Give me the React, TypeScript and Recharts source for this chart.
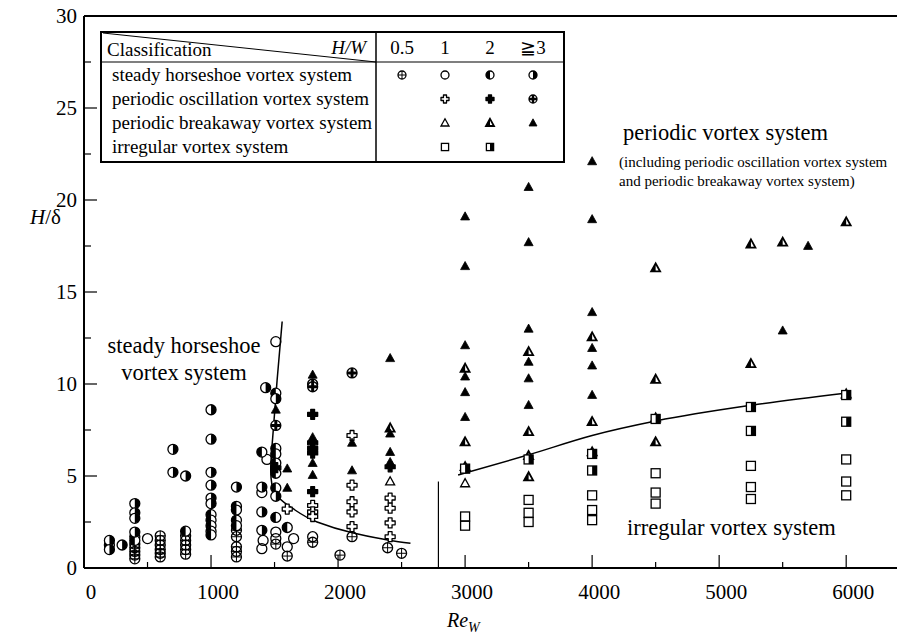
import React from 'react';
import { ComposedChart, Scatter, Line, XAxis, YAxis, ReferenceLine } from 'recharts';

const FONT = "'Liberation Serif', 'Times New Roman', Times, serif";

// ---- data: [Re_W, H/delta] ----
const steadyHW05: number[][] = [
  [400, 1.3], [400, 1.1], [400, 0.9], [400, 0.7], [400, 0.5],
  [600, 1.75], [600, 1.5], [600, 1.25], [600, 1.0], [600, 0.8], [600, 0.6],
  [800, 1.75], [800, 1.5], [800, 1.25], [800, 1.0], [800, 0.75],
  [1200, 2.05], [1200, 1.7], [1200, 1.15], [1200, 0.9], [1200, 0.6],
  [1510, 1.3], [1600, 0.65], [1800, 1.4], [2015, 0.7], [2110, 1.7], [2390, 1.1], [2500, 0.8],
];
const steadyHW1: number[][] = [
  [500, 1.6], [1440, 5.9], [1400, 4.1], [1410, 1.5], [1400, 1.05], [1510, 12.3],
  [1510, 1.95], [1510, 1.6], [1600, 1.15], [1650, 1.6], [1800, 1.7],
];
const steadyHW2: number[][] = [
  [200, 1.25], [400, 1.7], [400, 1.5], [800, 2.0],
  [1000, 2.9], [1000, 2.6], [1000, 2.3], [1000, 2.0], [1000, 1.8],
  [1200, 3.35], [1200, 3.15], [1200, 2.6], [1200, 2.3],
  [1400, 6.3], [1510, 9.5], [1510, 6.5], [1510, 6.2], [1510, 5.7], [1510, 5.15],
  [1510, 4.35], [1510, 2.75], [1600, 2.2],
];
const steadyHW3: number[][] = [
  [200, 1.5], [200, 1.0], [300, 1.25], [400, 3.5], [400, 3.0], [400, 2.7], [400, 1.95],
  [700, 6.45], [700, 5.2], [800, 5.0],
  [1000, 8.6], [1000, 7.0], [1000, 5.2], [1000, 4.5], [1000, 3.8], [1000, 3.5],
  [1200, 4.4], [1430, 9.8], [1400, 4.4], [1400, 3.05], [1400, 2.05], [1510, 9.2], [1510, 3.9],
];
const oscHW1: number[][] = [
  [1600, 3.2], [1800, 3.4], [1800, 3.05], [1800, 2.8],
  [2110, 7.2], [2110, 4.5], [2110, 3.6], [2110, 3.05], [2110, 2.25],
  [2410, 3.8], [2410, 3.25], [2410, 2.45], [2410, 1.7],
];
const oscHW2: number[][] = [
  [1510, 5.45], [1800, 8.35], [1800, 6.8], [1800, 6.5], [1800, 6.25], [1800, 4.15], [2410, 5.5],
];
const oscHW3: number[][] = [
  [1510, 7.75], [1800, 10.0], [1800, 9.85], [2110, 10.6],
];
const breakHW1: number[][] = [
  [2410, 4.7], [3000, 4.6],
];
const breakHW2: number[][] = [
  [2410, 7.6], [3000, 10.85], [3000, 6.85], [3000, 5.5],
  [3500, 11.75], [3500, 7.4], [3500, 6.1], [3500, 4.95],
  [4000, 12.55], [4000, 7.95], [4000, 6.3],
  [4500, 16.3], [4500, 10.25], [4500, 8.15], [4500, 6.85],
  [5250, 17.6], [5250, 11.1], [5500, 17.7], [6000, 18.8], [6000, 9.45],
];
const breakHW3: number[][] = [
  [1510, 8.6], [1600, 5.4], [1600, 4.35],
  [1800, 10.5], [1800, 7.1], [1800, 5.7], [1800, 5.05],
  [2110, 6.8], [2110, 5.3],
  [2410, 11.4], [2410, 7.3], [2410, 6.3], [2410, 5.75],
  [3000, 19.1], [3000, 16.4], [3000, 12.1], [3000, 10.4], [3000, 9.55], [3000, 8.2],
  [3500, 20.7], [3500, 17.7], [3500, 13.0], [3500, 11.2], [3500, 10.3], [3500, 8.85],
  [4000, 22.1], [4000, 18.95], [4000, 13.9], [4000, 11.95], [4000, 11.0], [4000, 9.4],
  [5500, 12.9], [5700, 17.5],
];
const irregHW1: number[][] = [
  [3000, 2.8], [3000, 2.3], [3500, 3.7], [3500, 3.0], [3500, 2.5],
  [4000, 3.95], [4000, 3.15], [4000, 2.6], [4500, 5.15], [4500, 4.1], [4500, 3.5],
  [5250, 5.55], [5250, 4.4], [5250, 3.75], [6000, 5.9], [6000, 4.7], [6000, 3.95],
];
const irregHW2: number[][] = [
  [3000, 5.4], [3500, 5.9], [4000, 6.2], [4000, 5.3], [4500, 8.1],
  [5250, 8.75], [5250, 7.45], [6000, 9.4], [6000, 7.95],
];

// boundary curves
const steadyBoundary: number[][] = [
  [1560, 13.4], [1520, 10.2], [1490, 7.5], [1470, 5.3], [1480, 4.5], [1530, 3.85],
  [1640, 3.25], [1835, 2.5], [2120, 1.9], [2410, 1.5], [2570, 1.35],
];
const irregularBoundary: number[][] = [
  [2945, 5.05], [3500, 6.15], [4000, 7.2], [4510, 8.0], [5260, 8.85], [5990, 9.5],
];
const separator: number[][] = [[2790, 0], [2790, 4.7]];

const xTicks = [0, 500, 1000, 1500, 2000, 2500, 3000, 3500, 4000, 4500, 5000, 5500, 6000];
const yTicks = [0, 2.5, 5, 7.5, 10, 12.5, 15, 17.5, 20, 22.5, 25, 27.5, 30];

const tableRows = [
  'steady horseshoe vortex system',
  'periodic oscillation vortex system',
  'periodic breakaway vortex system',
  'irregular vortex system',
];
const tableCols = ['0.5', '1', '2', '\u22673'];
const tableKinds: (string | null)[][] = [
  ['st05', 'st1', 'st2', 'st3'],
  [null, 'os1', 'os2', 'os3'],
  [null, 'br1', 'br2', 'br3'],
  [null, 'ir1', 'ir2', null],
];

const toPts = (a: number[][]) => a.map(([x, y]) => ({ x, y }));

function Marker({ kind, cx, cy, r = 5 }: { kind: string; cx: number; cy: number; r?: number }) {
  const sw = 1.3;
  const k = '#000';
  if (cx == null || cy == null) return null;
  switch (kind) {
    case 'st05':
      return (
        <g>
          <circle cx={cx} cy={cy} r={r} fill="none" stroke={k} strokeWidth={sw} />
          <line x1={cx - r} x2={cx + r} y1={cy} y2={cy} stroke={k} strokeWidth={1} />
          <line x1={cx} x2={cx} y1={cy - r} y2={cy + r} stroke={k} strokeWidth={1} />
        </g>
      );
    case 'st1':
      return <circle cx={cx} cy={cy} r={r} fill="none" stroke={k} strokeWidth={sw} />;
    case 'st2':
      return (
        <g>
          <circle cx={cx} cy={cy} r={r} fill="#fff" stroke={k} strokeWidth={sw} />
          <path d={`M${cx},${cy - r} A${r},${r} 0 0 0 ${cx},${cy + r} Z`} fill={k} />
        </g>
      );
    case 'st3':
      return (
        <g>
          <circle cx={cx} cy={cy} r={r} fill="#fff" stroke={k} strokeWidth={sw} />
          <path d={`M${cx},${cy - r} A${r},${r} 0 0 1 ${cx},${cy + r} Z`} fill={k} />
        </g>
      );
    case 'os1':
    case 'os2': {
      const a = r * 0.38;
      const d = `M${cx - a},${cy - r} L${cx + a},${cy - r} L${cx + a},${cy - a} L${cx + r},${cy - a} L${cx + r},${cy + a} L${cx + a},${cy + a} L${cx + a},${cy + r} L${cx - a},${cy + r} L${cx - a},${cy + a} L${cx - r},${cy + a} L${cx - r},${cy - a} L${cx - a},${cy - a} Z`;
      return <path d={d} fill={kind === 'os2' ? k : '#fff'} stroke={k} strokeWidth={sw} strokeLinejoin="round" />;
    }
    case 'os3': {
      const a = r * 0.3;
      const d = `M${cx - a},${cy - r} L${cx + a},${cy - r} L${cx + a},${cy - a} L${cx + r},${cy - a} L${cx + r},${cy + a} L${cx + a},${cy + a} L${cx + a},${cy + r} L${cx - a},${cy + r} L${cx - a},${cy + a} L${cx - r},${cy + a} L${cx - r},${cy - a} L${cx - a},${cy - a} Z`;
      return (
        <g>
          <circle cx={cx} cy={cy} r={r} fill="#fff" stroke={k} strokeWidth={sw} />
          <path d={d} fill={k} />
        </g>
      );
    }
    case 'br1':
    case 'br2':
    case 'br3': {
      const t = r * 1.0;
      const pts = `${cx},${cy - t * 1.05} ${cx - t},${cy + t * 0.75} ${cx + t},${cy + t * 0.75}`;
      if (kind === 'br3') return <polygon points={pts} fill={k} stroke={k} strokeWidth={0.8} />;
      if (kind === 'br1') return <polygon points={pts} fill="none" stroke={k} strokeWidth={sw} />;
      return (
        <g>
          <polygon points={pts} fill="#fff" stroke={k} strokeWidth={1.8} />
          <polygon points={`${cx},${cy - t * 1.05} ${cx - t},${cy + t * 0.75} ${cx},${cy + t * 0.75}`} fill={k} />
        </g>
      );
    }
    case 'ir1':
      return <rect x={cx - r * 0.9} y={cy - r * 0.9} width={r * 1.8} height={r * 1.8} fill="none" stroke={k} strokeWidth={sw} />;
    case 'ir2':
      return (
        <g>
          <rect x={cx - r * 0.9} y={cy - r * 0.9} width={r * 1.8} height={r * 1.8} fill="#fff" stroke={k} strokeWidth={sw} />
          <rect x={cx} y={cy - r * 0.9} width={r * 0.9} height={r * 1.8} fill={k} />
        </g>
      );
    default:
      return null;
  }
}

const XTick = (props: any) => {
  const { x, y, payload } = props;
  const v = payload.value;
  const major = v % 1000 === 0;
  return (
    <g>
      <line x1={x} x2={x} y1={y} y2={y - (major ? 13 : 6)} stroke="#000" strokeWidth={1.2} />
      {major && (
        <text x={x + 7} y={y + 31} textAnchor="middle" fontSize={21} fontFamily={FONT} fill="#000">
          {v}
        </text>
      )}
    </g>
  );
};

const YTick = (props: any) => {
  const { x, y, payload } = props;
  const v = payload.value;
  const major = v % 5 === 0;
  return (
    <g>
      <line x1={x} x2={x + (major ? 13 : 7)} y1={y} y2={y} stroke="#000" strokeWidth={1.2} />
      {major && (
        <text x={x - 7} y={y + 7} textAnchor="end" fontSize={21} fontFamily={FONT} fill="#000">
          {v}
        </text>
      )}
    </g>
  );
};

const series: [string, number[][]][] = [
  ['st05', steadyHW05], ['st1', steadyHW1], ['st2', steadyHW2], ['st3', steadyHW3],
  ['os1', oscHW1], ['os2', oscHW2], ['os3', oscHW3],
  ['br1', breakHW1], ['br2', breakHW2], ['br3', breakHW3],
  ['ir1', irregHW1], ['ir2', irregHW2],
];

export default function App() {
  const colX = [402, 445, 490, 533];
  const rowY = [75, 99, 123, 147];
  return (
    <div style={{ position: 'absolute', left: 0, top: 0, width: 901, height: 642, background: '#fff' }}>
      <ComposedChart width={901} height={642} margin={{ top: 16, right: 4, left: 0, bottom: 34 }}>
        <XAxis
          type="number"
          dataKey="x"
          domain={[0, 6400]}
          ticks={xTicks}
          interval={0}
          height={40}
          tickSize={0}
          tickMargin={0}
          tickLine={false}
          tick={<XTick />}
          axisLine={{ stroke: '#000', strokeWidth: 2 }}
          allowDataOverflow
        />
        <YAxis
          type="number"
          dataKey="y"
          domain={[0, 30]}
          ticks={yTicks}
          interval={0}
          width={84}
          tickSize={0}
          tickMargin={0}
          tickLine={false}
          tick={<YTick />}
          axisLine={{ stroke: '#000', strokeWidth: 2 }}
          allowDataOverflow
        />
        <ReferenceLine y={30} stroke="#000" strokeWidth={2} />
        <Line data={toPts(steadyBoundary)} dataKey="y" type="monotoneY" stroke="#000" strokeWidth={1.5} dot={false} isAnimationActive={false} />
        <Line data={toPts(irregularBoundary)} dataKey="y" type="monotone" stroke="#000" strokeWidth={1.5} dot={false} isAnimationActive={false} />
        <Line data={toPts(separator)} dataKey="y" type="linear" stroke="#000" strokeWidth={1.2} dot={false} isAnimationActive={false} />
        {series.map(([kind, arr]) => (
          <Scatter
            key={kind}
            data={toPts(arr)}
            isAnimationActive={false}
            shape={(p: any) => <Marker kind={kind} cx={p.cx} cy={p.cy} r={kind.startsWith('br') ? 4.5 : 5} />}
          />
        ))}
      </ComposedChart>
      <svg width={901} height={642} style={{ position: 'absolute', left: 0, top: 0, pointerEvents: 'none' }} fontFamily={FONT}>
        {/* legend table */}
        <rect x={101} y={32} width={463} height={130} fill="#fff" stroke="#000" strokeWidth={2} />
        <line x1={101} y1={62} x2={564} y2={62} stroke="#000" strokeWidth={1.2} />
        <line x1={376} y1={32} x2={376} y2={162} stroke="#000" strokeWidth={1.5} />
        <line x1={103} y1={33} x2={376} y2={62} stroke="#000" strokeWidth={1} />
        <text x={107} y={56} fontSize={19}>Classification</text>
        <text x={366} y={54} fontSize={19} fontStyle="italic" textAnchor="end">H/W</text>
        {tableCols.map((c, i) => (
          <text key={c} x={colX[i]} y={54} fontSize={19} textAnchor="middle">{c}</text>
        ))}
        {tableRows.map((t, i) => (
          <text key={t} x={112} y={rowY[i] + 6} fontSize={19}>{t}</text>
        ))}
        {tableKinds.map((row, i) =>
          row.map((kind, j) => (kind ? <Marker key={`${i}-${j}`} kind={kind} cx={colX[j]} cy={rowY[i]} r={4} /> : null))
        )}
        {/* annotations */}
        <text x={184} y={353} fontSize={22.5} textAnchor="middle">steady horseshoe</text>
        <text x={184} y={380} fontSize={22.5} textAnchor="middle">vortex system</text>
        <text x={623} y={140} fontSize={22.5}>periodic vortex system</text>
        <text x={619} y={167} fontSize={15}>(including  periodic oscillation vortex system</text>
        <text x={619} y={186} fontSize={15}>and periodic breakaway vortex system)</text>
        <text x={627} y={535} fontSize={22.5}>irregular vortex system</text>
        {/* axis titles */}
        <text x={30} y={224} fontSize={21}>
          <tspan fontStyle="italic">H</tspan>/δ
        </text>
        <text x={447} y={627} fontSize={20}>
          <tspan fontStyle="italic">Re</tspan>
          <tspan fontStyle="italic" fontSize={14} dy={5}>W</tspan>
        </text>
      </svg>
    </div>
  );
}
